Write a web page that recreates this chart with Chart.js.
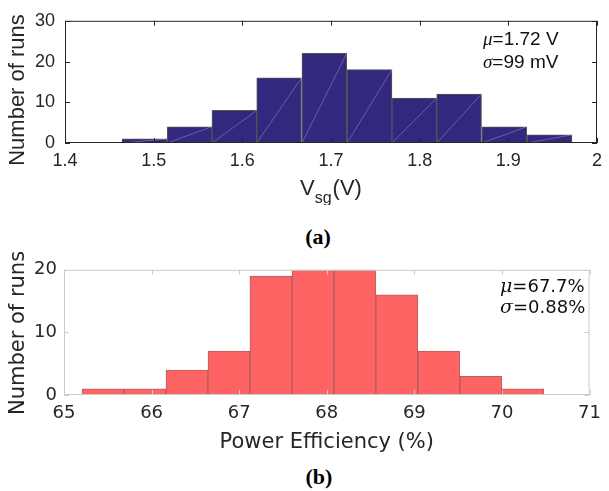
<!DOCTYPE html>
<html>
<head>
<meta charset="utf-8">
<script src="https://cdn.jsdelivr.net/npm/chart.js"></script>
<style>
body { margin: 0; background: #fff; }
#wrap { position: relative; width: 609px; height: 491px; }
canvas { position: absolute; left: 0; }
.cap { position: absolute; width: 80px; text-align: center; font: bold 22px "Liberation Serif"; line-height: 22px; color: #000; }
</style>
</head>
<body>
<div id="wrap">
  <canvas id="vsgChart" width="609" height="205" style="top:0"></canvas>
  <canvas id="effChart" width="609" height="205" style="top:252px"></canvas>
  <div class="cap" style="left:278px;top:226px">(a)</div>
  <div class="cap" style="left:279px;top:466px">(b)</div>
</div>
<script>
// histogram (a): source-gate voltage
const vsgEdges = [1.464, 1.515, 1.566, 1.616, 1.667, 1.718, 1.769, 1.819, 1.870, 1.921, 1.972];
const vsgCounts = [1, 4, 8, 16, 22, 18, 11, 12, 4, 2];
const vsgTicks = [1.4, 1.5, 1.6, 1.7, 1.8, 1.9, 2];

// histogram (b): power efficiency
const effEdges = [65.206, 65.685, 66.164, 66.644, 67.123, 67.602, 68.082, 68.561, 69.040, 69.520, 69.999, 70.478];
const effCounts = [1, 1, 4, 7, 19, 20, 20, 16, 7, 3, 1];
const effTicks = [65, 66, 67, 68, 69, 70, 71];

const toBins = (edges, counts) => counts.map((c, i) => ({x: (edges[i] + edges[i + 1]) / 2, y: c}));

// thin light seams across each bar, like the exported figure
const seams = {
    id: 'seams',
    afterDatasetsDraw(chart) {
        const {ctx} = chart;
        ctx.save();
        ctx.strokeStyle = 'rgba(190,190,230,0.45)';
        ctx.lineWidth = 0.8;
        chart.getDatasetMeta(0).data.forEach(bar => {
            const p = bar.getProps(['x', 'y', 'base', 'width'], true);
            ctx.beginPath();
            ctx.moveTo(p.x - p.width / 2, p.base);
            ctx.lineTo(p.x + p.width / 2, p.y);
            ctx.stroke();
        });
        ctx.restore();
    }
};

// box around the axes with inward ticks on all four sides
function frameTicks(color) {
    return {
        id: 'frameTicks',
        afterDatasetsDraw(chart) {
            const {ctx, chartArea: a, scales: {x, y}} = chart;
            const len = 5;
            ctx.save();
            ctx.strokeStyle = color;
            ctx.lineWidth = 1;
            ctx.strokeRect(a.left + 0.5, a.top + 0.5, a.right - a.left - 1, a.bottom - a.top - 1);
            ctx.beginPath();
            x.ticks.forEach(t => {
                const px = Math.round(x.getPixelForValue(t.value)) + 0.5;
                ctx.moveTo(px, a.bottom); ctx.lineTo(px, a.bottom - len);
                ctx.moveTo(px, a.top); ctx.lineTo(px, a.top + len);
            });
            y.ticks.forEach(t => {
                const py = Math.round(y.getPixelForValue(t.value)) + 0.5;
                ctx.moveTo(a.left, py); ctx.lineTo(a.left + len, py);
                ctx.moveTo(a.right, py); ctx.lineTo(a.right - len, py);
            });
            ctx.stroke();
            ctx.restore();
        }
    };
}

function stat(ctx, sym, rest, x, y, symFont, font) {
    ctx.font = symFont;
    ctx.fillText(sym, x, y);
    const w = ctx.measureText(sym).width;
    ctx.font = font;
    ctx.fillText(rest, x + w, y);
}

const vsgText = {
    id: 'vsgText',
    afterDraw(chart) {
        const {ctx, chartArea: a} = chart;
        ctx.save();
        ctx.fillStyle = '#262626';
        ctx.translate(18, 90);
        ctx.rotate(-Math.PI / 2);
        ctx.font = '22px "Liberation Sans"';
        ctx.textAlign = 'center';
        ctx.textBaseline = 'middle';
        ctx.fillText('Number of runs', 0, 0);
        ctx.restore();

        ctx.save();
        ctx.fillStyle = '#262626';
        ctx.textAlign = 'left';
        ctx.textBaseline = 'alphabetic';
        const big = '22px "Liberation Sans"', small = '16px "Liberation Sans"';
        ctx.font = big;
        const wV = ctx.measureText('V').width, wP = ctx.measureText('(V)').width;
        ctx.font = small;
        const wS = ctx.measureText('sg').width;
        const x0 = (a.left + a.right) / 2 - (wV + wS + wP + 1) / 2;
        ctx.font = big; ctx.fillText('V', x0, 195);
        ctx.font = small; ctx.fillText('sg', x0 + wV, 203);
        ctx.font = big; ctx.fillText('(V)', x0 + wV + wS + 1, 195);

        ctx.fillStyle = '#111';
        stat(ctx, 'μ', '=1.72 V', 483, 45, 'italic 19px "Liberation Serif"', '19px "Liberation Sans"');
        stat(ctx, 'σ', '=99 mV', 483, 68, 'italic 19px "Liberation Serif"', '19px "Liberation Sans"');
        ctx.restore();
    }
};

const effText = {
    id: 'effText',
    afterDraw(chart) {
        const {ctx, chartArea: a} = chart;
        ctx.save();
        ctx.fillStyle = '#262626';
        ctx.translate(19, 81);
        ctx.rotate(-Math.PI / 2);
        ctx.font = '21px "DejaVu Sans"';
        ctx.textAlign = 'center';
        ctx.textBaseline = 'middle';
        ctx.fillText('Number of runs', 0, 0);
        ctx.restore();

        ctx.save();
        ctx.fillStyle = '#262626';
        ctx.font = '21px "DejaVu Sans"';
        ctx.textAlign = 'center';
        ctx.textBaseline = 'alphabetic';
        ctx.fillText('Power Efficiency (%)', (a.left + a.right) / 2, 196);

        ctx.textAlign = 'left';
        ctx.fillStyle = '#111';
        stat(ctx, 'μ', '=67.7%', 500, 40, 'italic 19px "DejaVu Serif"', '18px "DejaVu Sans"');
        stat(ctx, 'σ', '=0.88%', 500, 61, 'italic 19px "DejaVu Serif"', '18px "DejaVu Sans"');
        ctx.restore();
    }
};

function histConfig(edges, counts, ticks, o) {
    return {
        type: 'bar',
        data: {
            datasets: [{
                data: toBins(edges, counts),
                backgroundColor: o.fill,
                borderColor: o.line,
                borderWidth: 1,
                barPercentage: 1,
                categoryPercentage: 1
            }]
        },
        plugins: o.plugins,
        options: {
            responsive: false,
            animation: false,
            layout: {padding: {top: 14, right: 12, left: 0, bottom: 0}},
            plugins: {legend: {display: false}, tooltip: {enabled: true}},
            scales: {
                x: {
                    type: 'linear',
                    offset: false,
                    min: ticks[0],
                    max: ticks[ticks.length - 1],
                    afterBuildTicks: s => { s.ticks = ticks.map(v => ({value: v})); },
                    afterFit: s => { s.height = 205 - 143; },
                    grid: {display: false, drawTicks: false},
                    border: {display: false},
                    ticks: {
                        padding: o.xPad,
                        color: '#262626',
                        font: o.font,
                        maxRotation: 0,
                        autoSkip: false,
                        callback: v => String(v)
                    }
                },
                y: {
                    min: 0,
                    max: o.yMax,
                    afterFit: s => { s.width = o.left; },
                    grid: {display: false, drawTicks: false},
                    border: {display: false},
                    ticks: {stepSize: 10, padding: o.yPad, color: '#262626', font: o.font}
                }
            }
        }
    };
}

new Chart(document.getElementById('vsgChart').getContext('2d'), histConfig(vsgEdges, vsgCounts, vsgTicks, {
    fill: '#32297f',
    line: '#555555',
    yMax: 30,
    left: 65,
    xPad: 7,
    yPad: 10,
    font: {family: 'Liberation Sans', size: 18},
    plugins: [seams, frameTicks('#262626'), vsgText]
}));

new Chart(document.getElementById('effChart').getContext('2d'), histConfig(effEdges, effCounts, effTicks, {
    fill: '#ff6464',
    line: 'rgba(150,45,45,0.75)',
    yMax: 20,
    left: 64,
    xPad: 8,
    yPad: 7,
    font: {family: 'DejaVu Sans', size: 18},
    plugins: [frameTicks('#cccccc'), effText]
}));
</script>
</body>
</html>
